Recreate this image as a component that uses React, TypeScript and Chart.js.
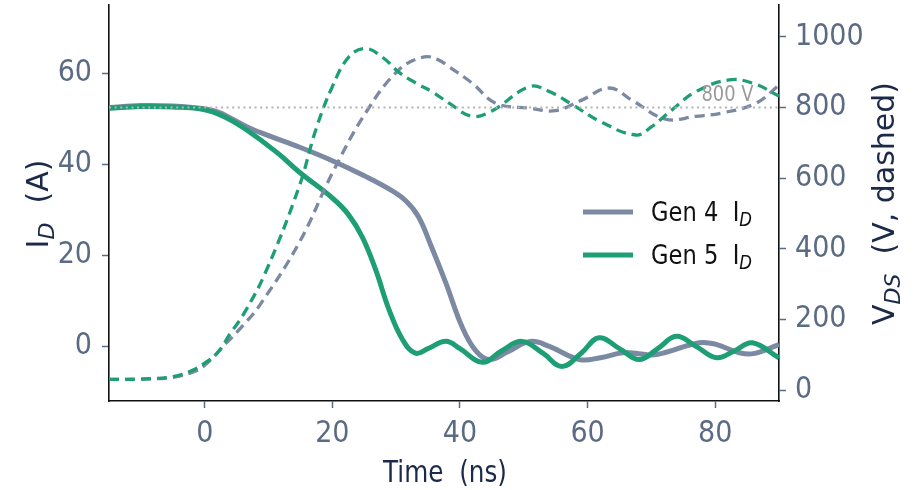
import React, { useEffect, useRef } from 'react';
import { Chart, registerables } from 'chart.js';
Chart.register(...registerables);

// ---- tick labels ----
const xTicks = [0, 20, 40, 60, 80];
const iTicks = [0, 20, 40, 60];
const vTicks = [0, 200, 400, 600, 800, 1000];
const busVoltage = 800;

// ---- Gen 4 drain current (A) ----
const gen4I_t = [-15, -10, -5, 0, 2, 4, 7, 10, 15, 20, 25, 29, 31.5, 33.5, 35.5, 37.8, 40.3, 42.5, 44.6, 47.5, 51, 54, 58.7, 62, 65.5, 68, 70.8, 77.5, 80, 83.8, 86, 90];
const gen4I = [52.5, 52.9, 52.8, 52.2, 51.5, 50.2, 48, 46.3, 43.7, 40.8, 37.5, 34.5, 32, 28.5, 22, 13.9, 4.4, -1, -2.9, -1.2, 1.1, 0, -2.9, -2.5, -1.4, -1.6, -1.8, 0.8, 0.5, -1.4, -1.6, 0.4];

// ---- Gen 5 drain current (A) ----
const gen5I_t = [-15, -10, -5, 0, 3, 6.3, 11.5, 14.8, 20, 22.5, 24.7, 26.8, 28.9, 31, 33, 35, 37.8, 40, 43.5, 46.5, 49.7, 53, 56, 59, 61.8, 65, 68.1, 71, 73.9, 77, 80.2, 83, 85.8, 90];
const gen5I = [52.3, 52.7, 52.6, 52, 50.5, 47.8, 42.4, 38.3, 32.6, 29, 24, 16.8, 8, 1.5, -1.5, -0.5, 1.1, -0.5, -3.5, -1, 1.1, -1.5, -4.4, -1.5, 1.9, -0.5, -2.9, -0.5, 2.2, 0, -2.5, -1, 0.8, -2.5];

// ---- Gen 4 drain-source voltage (V) ----
const gen4V_t = [-15, -10, -5, -2, 0, 2.7, 5.9, 8.5, 14.8, 20, 25.2, 30.4, 34.4, 36.7, 38.3, 41.9, 45.6, 50.9, 55, 59, 63.4, 67, 72.2, 77, 81, 86.4, 90];
const gen4V = [30, 31, 36, 50, 70, 120, 181, 237, 417, 614, 784, 906, 943, 934, 915, 869, 812, 798, 791, 820, 855, 820, 767, 775, 784, 812, 863];

// ---- Gen 5 drain-source voltage (V) ----
const gen5V_t = [-15, -10, -5, -2, 0, 2, 4, 6, 9.5, 14.8, 17.4, 20, 22.6, 25.2, 28, 30.4, 33, 35.6, 38.3, 41.9, 45, 50.9, 54, 57.7, 62, 67.5, 70, 73.2, 77, 82.2, 86, 90];
const gen5V = [30, 31, 38, 55, 76, 105, 160, 212, 332, 576, 736, 859, 943, 967, 940, 900, 870, 845, 812, 775, 790, 859, 845, 807, 760, 722, 745, 793, 845, 878, 868, 832];

const GRAY = '#7c89a3';
const GREEN = '#1e9e74';
const TICK = '#5b6b84';
const TITLE = '#1b2a48';
const FFC = "'DejaVu Sans Condensed', 'DejaVu Sans', sans-serif";
const FF = "'DejaVu Sans', sans-serif";

const pts = (t: number[], v: number[]) => t.map((x, i) => ({ x, y: v[i] }));

type Part = { t: string; sub?: boolean };

function drawParts(ctx: CanvasRenderingContext2D, parts: Part[], size: number, x: number, y: number, align: 'center' | 'left' | 'right', rotate: boolean, color: string, targetWidth?: number) {
  ctx.save();
  ctx.translate(x, y);
  if (rotate) ctx.rotate(-Math.PI / 2);
  ctx.fillStyle = color;
  ctx.textBaseline = 'alphabetic';
  ctx.textAlign = 'left';
  const fontOf = (p: Part) => (p.sub ? `italic ${Math.round(size * 0.72)}px ${FF}` : `${size}px ${FF}`);
  let total = 0;
  for (const p of parts) { ctx.font = fontOf(p); total += ctx.measureText(p.t).width; }
  const sx = targetWidth ? targetWidth / total : 1;
  ctx.scale(sx, 1);
  let cx = align === 'center' ? -total / 2 : align === 'right' ? -total : 0;
  for (const p of parts) {
    ctx.font = fontOf(p);
    ctx.fillText(p.t, cx, p.sub ? size * 0.2 : 0);
    cx += ctx.measureText(p.t).width;
  }
  ctx.restore();
}

const textPlugin = {
  id: 'textPlugin',
  afterDraw(chart: any) {
    const ctx = chart.ctx as CanvasRenderingContext2D;
    const xs = chart.scales.x;
    const y2 = chart.scales.y2;
    drawParts(ctx, [{ t: 'Time  (ns)' }], 30, 445, 481.5, 'center', false, TITLE, 124);
    drawParts(ctx, [{ t: 'I' }, { t: 'D', sub: true }, { t: '  (A)' }], 30, 48, 204, 'center', true, TITLE);
    drawParts(ctx, [{ t: 'V' }, { t: 'DS', sub: true }, { t: '  (V, dashed)' }], 30, 893.5, 203.5, 'center', true, TITLE);
    drawParts(ctx, [{ t: `${busVoltage} V` }], 20.5, xs.getPixelForValue(86), y2.getPixelForValue(busVoltage) - 6, 'right', false, '#9a9a9a', 52);
    const rows = [
      { c: GRAY, label: 'Gen 4' },
      { c: GREEN, label: 'Gen 5' },
    ];
    rows.forEach((r, i) => {
      const yy = 212 + i * 43;
      ctx.save();
      ctx.strokeStyle = r.c;
      ctx.lineWidth = 5;
      ctx.beginPath();
      ctx.moveTo(583, yy);
      ctx.lineTo(633, yy);
      ctx.stroke();
      ctx.restore();
      drawParts(ctx, [{ t: r.label + '  I' }, { t: 'D', sub: true }], 26, 651, yy + 9, 'left', false, '#111111', 101);
    });
  },
};

export default function App() {
  const ref = useRef<HTMLCanvasElement | null>(null);
  useEffect(() => {
    if (!ref.current) return;
    const tickFont = { family: FFC, size: 30 };
    const gridCfg = { display: true, drawOnChartArea: false, drawTicks: true, tickLength: 7, tickColor: TICK, tickWidth: 1.5 };
    const borderCfg = { display: true, color: '#111111', width: 1.6 };
    const fmt = (v: any) => String(v);
    const lineBase = { pointRadius: 0, tension: 0.4 };
    const chart = new Chart(ref.current, {
      type: 'line',
      data: {
        datasets: [
          {
            label: '800 V',
            data: [{ x: -15, y: busVoltage }, { x: 90, y: busVoltage }],
            yAxisID: 'y2',
            borderColor: '#b3b3b3',
            borderWidth: 2,
            borderDash: [2, 3.6],
            pointRadius: 0,
            order: 0,
          },
          { ...lineBase, label: 'Gen 5 VDS', data: pts(gen5V_t, gen5V), yAxisID: 'y2', borderColor: GREEN, borderWidth: 3.3, borderDash: [10, 6], order: 1 },
          { ...lineBase, label: 'Gen 4 VDS', data: pts(gen4V_t, gen4V), yAxisID: 'y2', borderColor: GRAY, borderWidth: 3.3, borderDash: [10, 6], order: 2 },
          { ...lineBase, label: 'Gen 5 ID', data: pts(gen5I_t, gen5I), yAxisID: 'y', borderColor: GREEN, borderWidth: 5, order: 3 },
          { ...lineBase, label: 'Gen 4 ID', data: pts(gen4I_t, gen4I), yAxisID: 'y', borderColor: GRAY, borderWidth: 5, order: 4 },
        ],
      },
      options: {
        animation: false,
        responsive: false,
        maintainAspectRatio: false,
        layout: { padding: { top: 5, left: 0, right: 0, bottom: 0 } },
        plugins: { legend: { display: false }, tooltip: { enabled: false } },
        scales: {
          x: {
            type: 'linear',
            min: -15,
            max: 90,
            afterBuildTicks: (s: any) => { s.ticks = xTicks.map((v) => ({ value: v })); },
            afterFit: (s: any) => { s.height = 89; s.paddingLeft = 0; s.paddingRight = 0; },
            grid: gridCfg,
            border: borderCfg,
            ticks: { color: TICK, font: tickFont, padding: 8, maxRotation: 0, callback: fmt },
          },
          y: {
            type: 'linear',
            position: 'left',
            min: -12,
            max: 75,
            afterBuildTicks: (s: any) => { s.ticks = iTicks.map((v) => ({ value: v })); },
            afterFit: (s: any) => { s.width = 109; s.paddingTop = 0; s.paddingBottom = 0; },
            grid: gridCfg,
            border: borderCfg,
            ticks: { color: TICK, font: tickFont, padding: 10, callback: fmt },
          },
          y2: {
            type: 'linear',
            position: 'right',
            min: -31,
            max: 1090,
            afterBuildTicks: (s: any) => { s.ticks = vTicks.map((v) => ({ value: v })); },
            afterFit: (s: any) => { s.width = 137; s.paddingTop = 0; s.paddingBottom = 0; },
            grid: gridCfg,
            border: borderCfg,
            ticks: { color: TICK, font: tickFont, padding: 9, callback: fmt },
          },
        },
      },
      plugins: [textPlugin],
    } as any);
    return () => chart.destroy();
  }, []);
  return (
    <div style={{ position: 'fixed', left: 0, top: 0, width: 916, height: 490, background: '#ffffff' }}>
      <canvas ref={ref} width={916} height={490} style={{ width: 916, height: 490, display: 'block' }} />
    </div>
  );
}
